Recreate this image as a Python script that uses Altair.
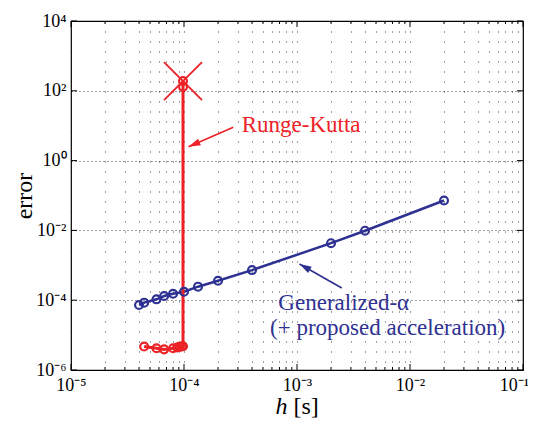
import json
import altair as alt
import pandas as pd

# ---------------- data ----------------
blue_h = [4.0e-5, 4.44e-5, 5.71e-5, 6.67e-5, 8.0e-5, 1.0e-4, 1.33e-4, 2.0e-4, 4.0e-4, 2.0e-3, 4.0e-3, 2.0e-2]
blue_err = [7.3e-5, 8.5e-5, 1.06e-4, 1.32e-4, 1.53e-4, 1.75e-4, 2.44e-4, 3.6e-4, 7.3e-4, 4.3e-3, 9.8e-3, 7.2e-2]

red_h = [4.44e-5, 5.71e-5, 6.67e-5, 8.0e-5, 8.7e-5, 9.09e-5, 9.52e-5, 9.8e-5, 9.8e-5, 9.8e-5]
red_err = [4.7e-6, 4.2e-6, 3.9e-6, 4.2e-6, 4.4e-6, 4.6e-6, 4.7e-6, 4.8e-6, 130.0, 190.0]

x_major = [1e-5, 1e-4, 1e-3, 1e-2, 1e-1]
x_labels = ["10⁻⁵", "10⁻⁴", "10⁻³", "10⁻²", "10⁻¹"]
x_minor = [m * 10.0 ** k for k in range(-5, -1) for m in range(2, 10)]
y_major = [1e-6, 1e-4, 1e-2, 1e0, 1e2, 1e4]
y_labels = ["10⁻⁶", "10⁻⁴", "10⁻²", "10⁰", "10²", "10⁴"]

y_title = "error"
x_title_parts = ["h", "[s]"]

rk_label = ["Runge-Kutta"]
rk_label_h = [3.24e-4]
rk_label_err = [6.73]
ga_labels = ["Generalized-α", "(+ proposed acceleration)"]
ga_label_h = [6.84e-4, 5.77e-4]
ga_label_err = [5.24e-5, 1.0e-5]

rk_arrow = {"h": [2.73e-4], "err": [9.0], "h2": [1.096e-4], "err2": [2.5]}
ga_arrow = {"h": [2.49e-3], "err": [2.24e-4], "h2": [1.052e-3], "err2": [1.09e-3]}

# ---------------- styling ----------------
W, H = 452, 349
BLUE = "#2E3192"
RED = "#EC2227"
FONT = "Liberation Serif, Times New Roman, serif"
ARROW = "M0,0 L-0.3,1 L0.3,1 Z"
XMARK = "M-1,-1 L1,1 M-1,1 L1,-1"

xs = alt.Scale(type="log", domain=[1e-5, 1e-1])
ys = alt.Scale(type="log", domain=[1e-6, 1e4])

xexp = "round(log(datum.value)/LN10)"
x_label_expr = (
    f"abs(log(datum.value)/LN10 - {xexp}) < 0.001 ? "
    f"{json.dumps(x_labels, ensure_ascii=False)}[{xexp} + 5] : ''"
)
y_label_expr = (
    f"{json.dumps(y_labels, ensure_ascii=False)}[round((log(datum.value)/LN10 + 6)/2)]"
)

xaxis = alt.Axis(
    values=x_major + x_minor, labelExpr=x_label_expr, grid=True,
    gridDash=[1, 9], gridColor="#000", gridOpacity=0.75, gridWidth=1,
    ticks=False, tickSize=0, domain=False, labelFont=FONT, labelFontSize=18,
    labelColor="black", labelPadding=6, labelFlush=False, labelOverlap=False,
    labelOffset={"condition": {"test": "datum.value > 0.05", "value": -9}, "value": 0},
    title=None,
)
yaxis = alt.Axis(
    values=y_major, labelExpr=y_label_expr, grid=True,
    gridDash=[1, 3], gridColor="#000", gridOpacity=0.75, gridWidth=1,
    ticks=False, tickSize=0, domain=False, labelFont=FONT, labelFontSize=18,
    labelColor="black", labelPadding=5, labelOverlap=False,
    title=y_title, titleFont=FONT, titleFontSize=24, titleFontWeight="normal",
    titleColor="black", titleX=-40, titleY=H / 2, titleBaseline="alphabetic",
    titleAngle=-90,
)

X = alt.X("h:Q", scale=xs, axis=xaxis)
Y = alt.Y("err:Q", scale=ys, axis=yaxis)

blue_df = pd.DataFrame({"h": blue_h, "err": blue_err, "i": range(len(blue_h))})
red_df = pd.DataFrame({"h": red_h, "err": red_err, "i": range(len(red_h))})

blue_line = alt.Chart(blue_df).mark_line(color=BLUE, strokeWidth=2.5).encode(x=X, y=Y, order="i:Q")
blue_pts = alt.Chart(blue_df).mark_point(shape="circle", filled=False, size=62, strokeWidth=2.2, color=BLUE, opacity=1).encode(x=X, y=Y)
red_line = alt.Chart(red_df).mark_line(color=RED, strokeWidth=3).encode(x=X, y=Y, order="i:Q")
red_pts = alt.Chart(red_df).mark_point(shape="circle", filled=False, size=62, strokeWidth=2.2, color=RED, opacity=1).encode(x=X, y=Y)
red_x = alt.Chart(red_df.tail(1)).mark_point(shape=XMARK, filled=False, size=1444, strokeWidth=1.8, color=RED, opacity=1).encode(x=X, y=Y)

# ticks drawn inward (MATLAB style)
xmaj_df = pd.DataFrame({"h": x_major})
xmin_df = pd.DataFrame({"h": x_minor})
ymaj_df = pd.DataFrame({"err": y_major})
tick_layers = [
    alt.Chart(xmaj_df).mark_rule(color="black", strokeWidth=1).encode(x=X, y=alt.value(H), y2=alt.value(H - 6)),
    alt.Chart(xmaj_df).mark_rule(color="black", strokeWidth=1).encode(x=X, y=alt.value(0), y2=alt.value(6)),
    alt.Chart(xmin_df).mark_rule(color="black", strokeWidth=1).encode(x=X, y=alt.value(H), y2=alt.value(H - 3)),
    alt.Chart(xmin_df).mark_rule(color="black", strokeWidth=1).encode(x=X, y=alt.value(0), y2=alt.value(3)),
    alt.Chart(ymaj_df).mark_rule(color="black", strokeWidth=1).encode(y=Y, x=alt.value(0), x2=alt.value(6)),
    alt.Chart(ymaj_df).mark_rule(color="black", strokeWidth=1).encode(y=Y, x=alt.value(W), x2=alt.value(W - 6)),
]

# annotations
rk_df = pd.DataFrame({"h": rk_label_h, "err": rk_label_err, "t": rk_label})
ga_df = pd.DataFrame({"h": ga_label_h, "err": ga_label_err, "t": ga_labels})
rk_text = alt.Chart(rk_df).mark_text(align="left", baseline="alphabetic", font=FONT, fontSize=23, color=RED).encode(x=X, y=Y, text="t:N")
ga_text = alt.Chart(ga_df).mark_text(align="left", baseline="alphabetic", font=FONT, fontSize=23, color=BLUE).encode(x=X, y=Y, text="t:N")

rka_df = pd.DataFrame(rk_arrow)
gaa_df = pd.DataFrame(ga_arrow)
rk_shaft = alt.Chart(rka_df).mark_rule(color=RED, strokeWidth=1.6).encode(x=X, y=Y, x2="h2:Q", y2="err2:Q")
ga_shaft = alt.Chart(gaa_df).mark_rule(color=BLUE, strokeWidth=1.6).encode(x=X, y=Y, x2="h2:Q", y2="err2:Q")
rk_head = alt.Chart(rka_df).mark_point(shape=ARROW, filled=True, size=576, angle=246.6, color=RED, opacity=1).encode(
    x=alt.X("h2:Q", scale=xs, axis=xaxis), y=alt.Y("err2:Q", scale=ys, axis=yaxis))
ga_head = alt.Chart(gaa_df).mark_point(shape=ARROW, filled=True, size=576, angle=299.9, color=BLUE, opacity=1).encode(
    x=alt.X("h2:Q", scale=xs, axis=xaxis), y=alt.Y("err2:Q", scale=ys, axis=yaxis))

# x-axis title with italic h
xt_df = pd.DataFrame({"t": x_title_parts})
xt_h = alt.Chart(xt_df.head(1)).mark_text(align="left", baseline="alphabetic", font=FONT, fontSize=24, fontStyle="italic", color="black").encode(
    x=alt.value(204.5), y=alt.value(393), text="t:N")
xt_s = alt.Chart(xt_df.tail(1)).mark_text(align="left", baseline="alphabetic", font=FONT, fontSize=24, color="black").encode(
    x=alt.value(222.5), y=alt.value(393), text="t:N")

chart = alt.layer(
    blue_line, *tick_layers, red_line, blue_pts, red_pts, red_x,
    rk_shaft, rk_head, ga_shaft, ga_head, rk_text, ga_text, xt_h, xt_s,
).properties(
    width=W, height=H,
    autosize=alt.AutoSizeParams(type="none"),
    padding={"left": 63, "top": 13, "right": 5, "bottom": 50},
    background="white",
).configure_view(stroke="black", strokeWidth=1.2)

chart.save("out.html", embed_options={"renderer": "svg", "actions": False})
